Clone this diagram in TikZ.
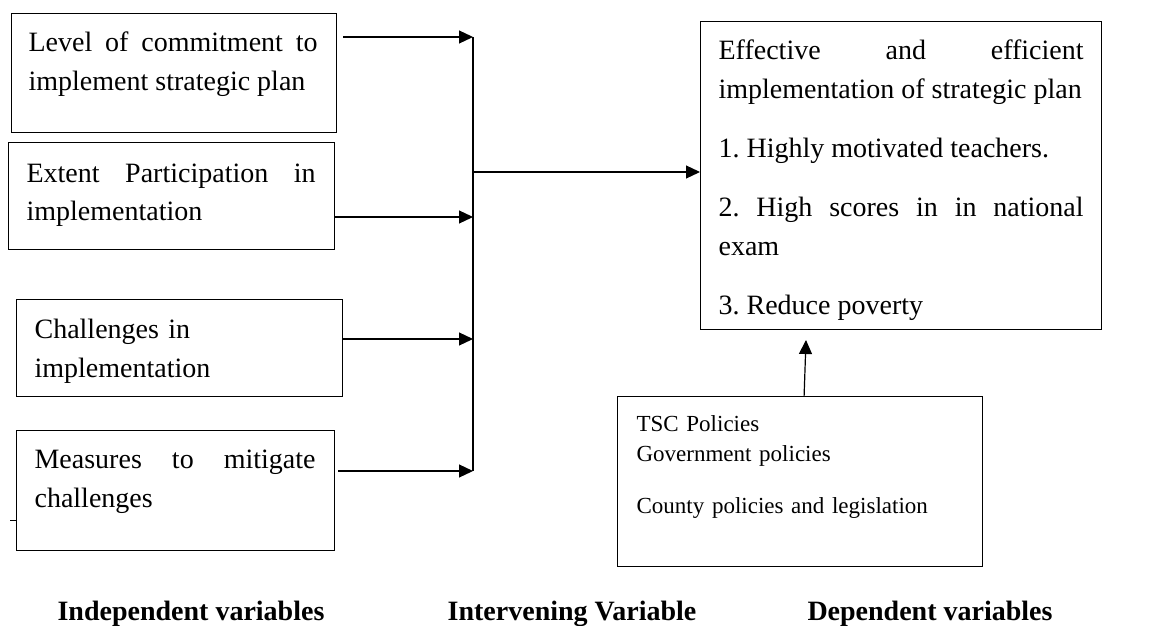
\documentclass[tikz,border=0pt]{standalone}
\usepackage{fontspec}
\setmainfont{Liberation Serif}
\usetikzlibrary{arrows.meta, positioning, calc}
\frenchspacing

\begin{document}
\begin{tikzpicture}[x=1pt, y=-1pt, line width=1.2pt,
  box/.style = {draw, rectangle, anchor=north west, inner sep=0pt},
  txt/.style = {anchor=base west, inner sep=0pt, align=justify,
    font=\fontsize{28}{39}\selectfont},
  small/.style = {anchor=base west, inner sep=0pt, align=left,
    font=\fontsize{23}{30}\selectfont},
  lbl/.style = {anchor=base, inner sep=0pt, font=\fontsize{28}{34}\selectfont\bfseries},
  arr/.style = {-{Triangle[length=14pt, width=13pt]}}]

  \useasboundingbox (0,0) rectangle (1176,626);

  \node[box, minimum width=325pt, minimum height=119pt] (comm) at (11,13) {};
  \node[box, minimum width=326pt, minimum height=107pt] (part) at (8,142) {};
  \node[box, minimum width=326pt, minimum height=97pt] (chal) at (16,299) {};
  \node[box, minimum width=318pt, minimum height=120pt] (meas) at (16,430) {};
  \node[box, minimum width=401pt, minimum height=308pt] (dep) at (700,21) {};
  \node[box, minimum width=365pt, minimum height=170pt] (intv) at (617,396) {};

  \node[txt, text width=289pt] (tcomm) at (28,52)
    {Level of commitment to\linebreak implement strategic plan};
  \node[txt, text width=289pt] (tpart) at (26,182)
    {Extent Participation in\linebreak implementation};
  \node[txt, text width=290pt, align=left] (tchal) at (34,338)
    {Challenges in\\implementation};
  \node[txt, text width=281pt] (tmeas) at (34,468)
    {Measures to mitigate\linebreak challenges};
  \node[txt, text width=365pt] (tdep) at (718,60)
    {Effective and efficient\linebreak implementation of strategic plan\\[20pt]
     1. Highly motivated teachers.\\[20pt]
     2. High scores in in national\linebreak exam\\[20pt]
     3. Reduce poverty};
  \node[small, text width=330pt] (tintv) at (636,431)
    {TSC Policies\\Government policies\\[22pt]County policies and legislation};

  \node[lbl] (lind) at (191,620) {Independent variables};
  \node[lbl] (lint) at (572,620) {Intervening Variable};
  \node[lbl] (ldep) at (930,620) {Dependent variables};

  \coordinate (j1) at (473,37);
  \coordinate (j2) at (473,217);
  \coordinate (j3) at (473,339);
  \coordinate (j4) at (473,471);
  \coordinate (jm) at (473,172);
  \coordinate (up) at (806,340);
  \coordinate (tick) at (10,520);

  \draw (j1) -- (j4);
  \draw[arr] ([xshift=6pt]j1 -| comm.east) -- (j1);
  \draw[arr] (j2 -| part.east) -- (j2);
  \draw[arr] (j3 -| chal.east) -- (j3);
  \draw[arr] ([xshift=3pt]j4 -| meas.east) -- (j4);
  \draw[arr] (jm) -- (jm -| dep.west);
  \draw[arr] ([xshift=4pt]intv.north) -- (up);
  \draw[line width=0.8pt] (tick) -- (tick -| meas.west);
\end{tikzpicture}
\end{document}
